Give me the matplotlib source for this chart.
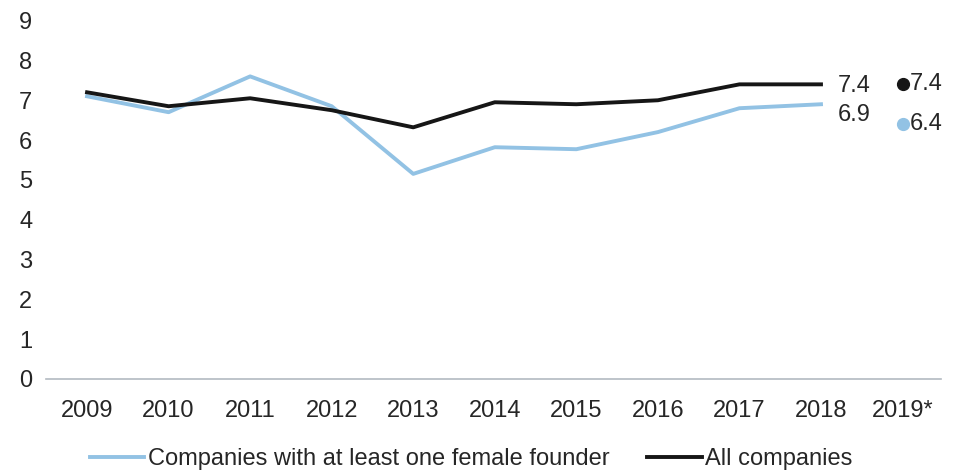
import numpy as np
import matplotlib
matplotlib.use("Agg")
import matplotlib.pyplot as plt

plt.rcParams['font.family'] = ['Liberation Sans', 'DejaVu Sans']

years = ["2009", "2010", "2011", "2012", "2013", "2014", "2015", "2016", "2017", "2018", "2019*"]
female = [7.1, 6.7, 7.6, 6.85, 5.15, 5.82, 5.77, 6.2, 6.8, 6.9]
all_cos = [7.2, 6.85, 7.05, 6.75, 6.32, 6.95, 6.9, 7.0, 7.4, 7.4]
proj_female = 6.4
proj_all = 7.4

blue = "#92c2e4"
black = "#161616"
txt = "#262626"
fs = 17

fig = plt.figure(figsize=(9.64, 4.70), dpi=100)
ax = fig.add_axes([0.048, 0.194, 0.928, 0.762])

x = np.arange(len(years))
ax.plot(x[:10], female, color=blue, lw=2.8, label="Companies with at least one female founder")
ax.plot(x[:10], all_cos, color=black, lw=2.8, label="All companies")

# 2019 projections
ax.plot(x[10], proj_all, "o", color=black, ms=8.5)
ax.plot(x[10], proj_female, "o", color=blue, ms=8.5)
ax.annotate(f"{proj_all}", (x[10], proj_all), xytext=(5, 0), textcoords="offset points",
            va="center", ha="left", fontsize=fs, color=txt)
ax.annotate(f"{proj_female}", (x[10], proj_female), xytext=(5, 0), textcoords="offset points",
            va="center", ha="left", fontsize=fs, color=txt)

# end labels for 2018
ax.annotate(f"{all_cos[-1]}", (x[9], all_cos[-1]), xytext=(12, -1), textcoords="offset points",
            va="center", ha="left", fontsize=fs, color=txt)
ax.annotate(f"{female[-1]}", (x[9], female[-1]), xytext=(12, -8), textcoords="offset points",
            va="center", ha="left", fontsize=fs, color=txt)

ax.set_ylim(0, 9)
ax.set_yticks(range(0, 10))
ax.set_xlim(-0.5, 10.47)
ax.set_xticks(x)
ax.set_xticklabels(years)
ax.tick_params(axis="both", length=0, labelsize=fs, colors=txt)
ax.tick_params(axis="x", pad=15)
ax.tick_params(axis="y", pad=10)

for s in ["top", "right", "left"]:
    ax.spines[s].set_visible(False)
ax.spines["bottom"].set_color("#b3bac1")
ax.spines["bottom"].set_linewidth(1.2)

fig.legend(*ax.get_legend_handles_labels(), loc="center", bbox_to_anchor=(0.489, 0.023),
           ncol=2, frameon=False, fontsize=fs, handlelength=2.3, handletextpad=0.15,
           columnspacing=1.6, labelcolor=txt, borderaxespad=0, borderpad=0)

fig.savefig("out.png", dpi=100)
